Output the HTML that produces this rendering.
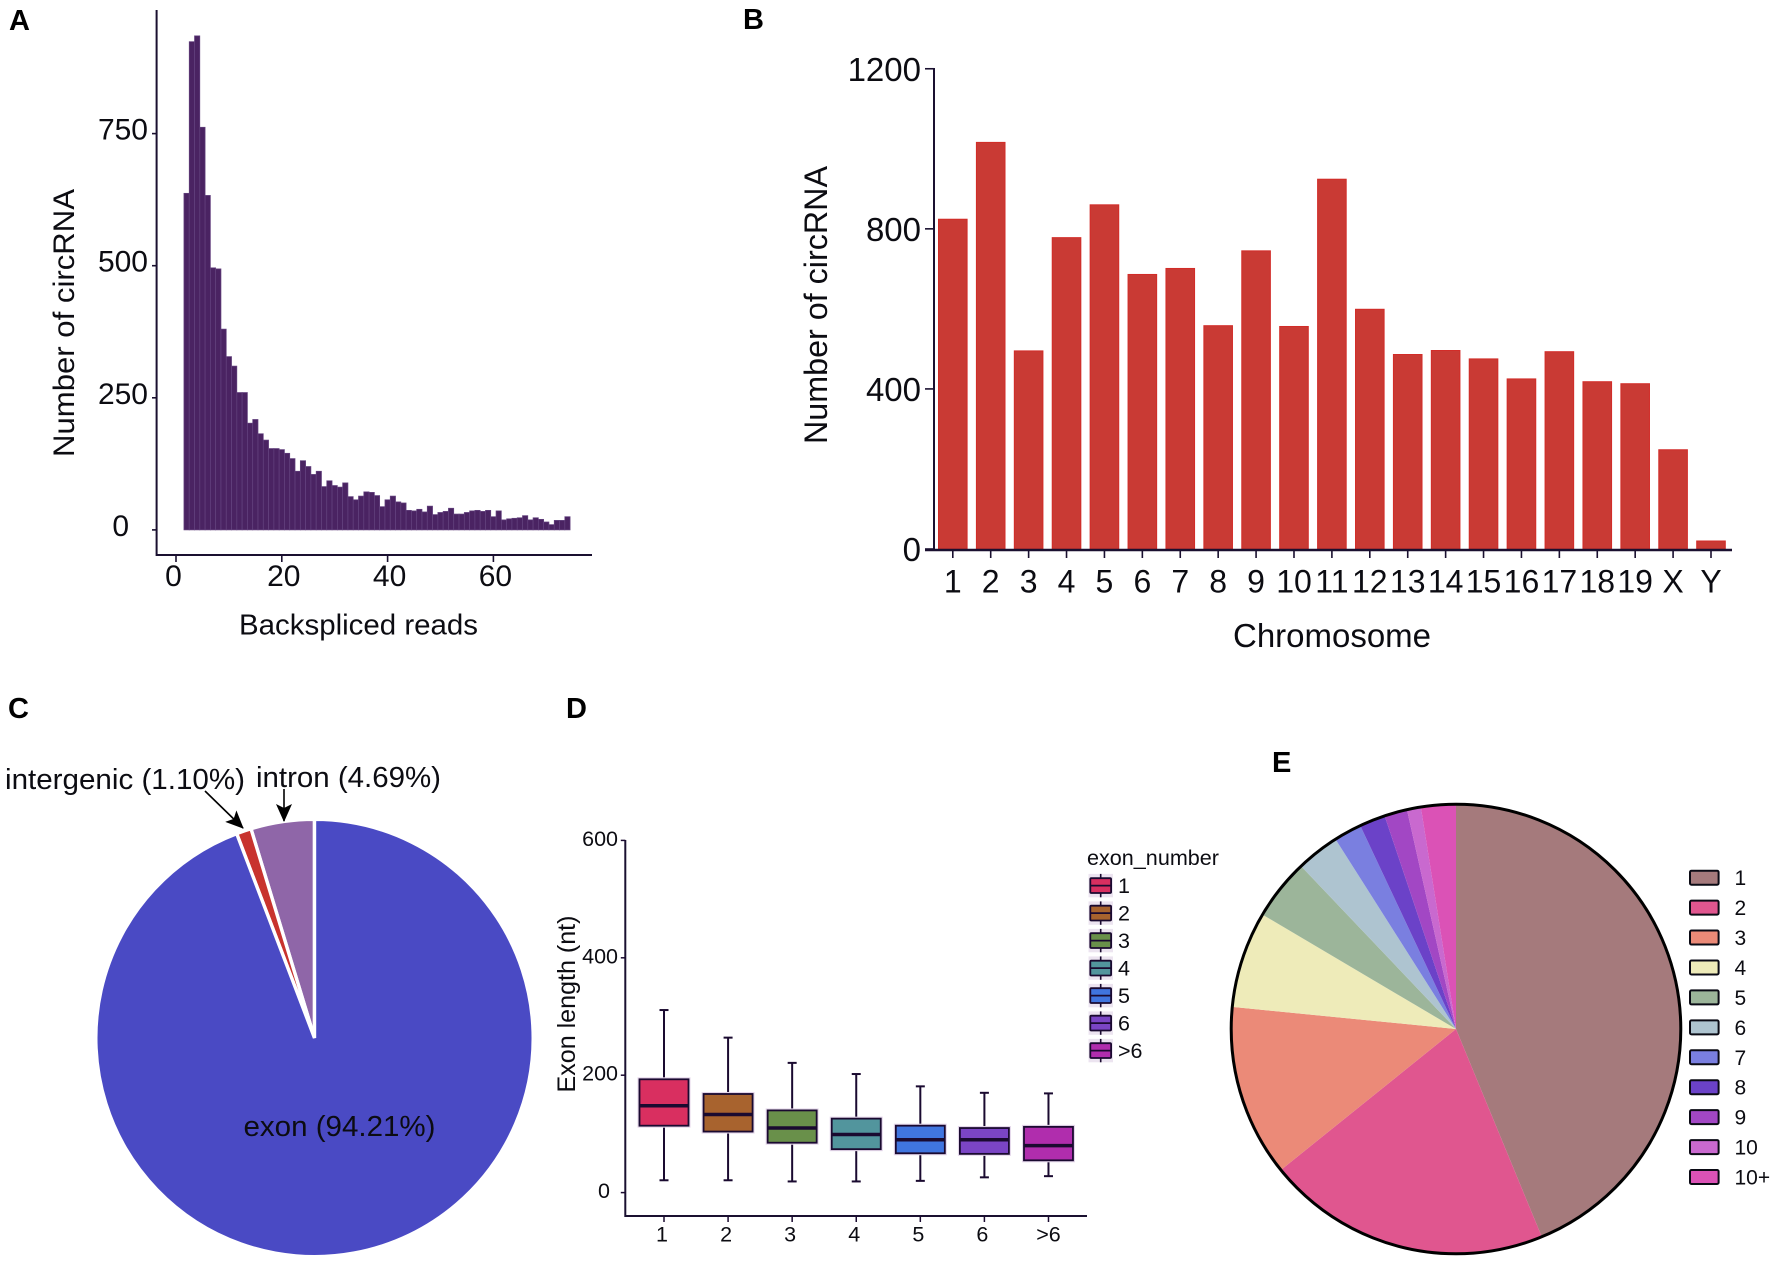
<!DOCTYPE html>
<html lang="en">
<head>
<meta charset="utf-8">
<title>circRNA characterization figure</title>
<style>
html,body{margin:0;padding:0;background:#fff;}
svg{display:block;}
text{font-family:"Liberation Sans",Arial,sans-serif;fill:#0c0c12;}
.panel-label{font-weight:bold;font-size:29px;fill:#000;}
</style>
</head>
<body>
<svg id="figure" xmlns="http://www.w3.org/2000/svg" width="1772" height="1262" viewBox="0 0 1772 1262">
  <defs>
    <marker id="arrow-head-large" markerWidth="18" markerHeight="16" refX="17" refY="8" orient="auto" markerUnits="userSpaceOnUse" viewBox="0 0 18 16">
      <path d="M0,0 L18,8 L0,16 L4,8 Z" fill="#000"/>
    </marker>
  </defs>

  <text class="panel-label" x="9" y="30">A</text>
  <text class="panel-label" x="743" y="29">B</text>
  <text class="panel-label" x="8" y="718">C</text>
  <text class="panel-label" x="566" y="718">D</text>
  <text class="panel-label" x="1272" y="772">E</text>

  <g id="panel-a">
    <line x1="156.6" y1="10" x2="156.6" y2="556" stroke="#1a1030" stroke-width="2"/>
    <line x1="156" y1="555" x2="592" y2="555" stroke="#1a1030" stroke-width="2"/>
    <text transform="translate(74 323) rotate(-90)" text-anchor="middle" font-size="30" textLength="268" lengthAdjust="spacingAndGlyphs">Number of circRNA</text>
    <text x="358.5" y="634.5" text-anchor="middle" font-size="29" textLength="239" lengthAdjust="spacingAndGlyphs">Backspliced reads</text>
  </g>

  <g id="panel-b">
    <line x1="934" y1="68" x2="934" y2="550" stroke="#1a1030" stroke-width="2"/>
    <text transform="translate(827 305) rotate(-90)" text-anchor="middle" font-size="32" textLength="278" lengthAdjust="spacingAndGlyphs">Number of circRNA</text>
    <text x="1332" y="647" text-anchor="middle" font-size="33" textLength="198" lengthAdjust="spacingAndGlyphs">Chromosome</text>
  </g>

  <g id="panel-c">
    <text x="5" y="789" font-size="29" textLength="240" lengthAdjust="spacingAndGlyphs">intergenic (1.10%)</text>
    <text x="256" y="787" font-size="29" textLength="185" lengthAdjust="spacingAndGlyphs">intron (4.69%)</text>
    <line x1="205" y1="791" x2="243" y2="828" stroke="#000" stroke-width="1.6" marker-end="url(#arrow-head-large)"/>
    <line x1="284" y1="789" x2="284" y2="821" stroke="#000" stroke-width="1.6" marker-end="url(#arrow-head-large)"/>
  </g>

  <g id="panel-d">
    <line x1="625.3" y1="840" x2="625.3" y2="1217" stroke="#1a1030" stroke-width="2"/>
    <line x1="624.5" y1="1216" x2="1087" y2="1216" stroke="#1a1030" stroke-width="2"/>
    <text transform="translate(575 1004) rotate(-90)" text-anchor="middle" font-size="25" textLength="177" lengthAdjust="spacingAndGlyphs">Exon length (nt)</text>
    <text x="1087" y="865" font-size="21.5" textLength="132" lengthAdjust="spacingAndGlyphs">exon_number</text>
  </g>

  <g id="panel-e"></g>
</svg>

<script>
// Panel A: histogram
const histStart = 2;
const histCounts = [637,924,935,762,633,496,494,380,328,310,260,260,202,209,182,170,154,154,152,145,135,111,131,120,105,111,82,93,84,81,89,63,57,64,72,71,65,44,57,64,53,51,37,36,39,34,45,29,33,35,41,30,30,33,36,37,35,37,25,36,19,21,22,23,27,19,23,20,15,10,18,18,25];
const histYTicks = [0,250,500,750];
const histXTicks = [0,20,40,60];

// Panel B: bars
const chromosomes = ['1','2','3','4','5','6','7','8','9','10','11','12','13','14','15','16','17','18','19','X','Y'];
const chromosomeCounts = [824,1016,495,778,860,686,701,558,745,556,924,599,486,496,475,425,493,418,413,248,20];
const chromosomeYTicks = [0,400,800,1200];

// Panel C: pie
const originNames = ['intron','intergenic','exon'];
const originShares = [4.69,1.10,94.21];
const originColors = ['#8f66a8','#c8332e','#4a4ac4'];

// Panel D: boxplot
const exonGroups = ['1','2','3','4','5','6','>6'];
const whiskerHigh = [311,264,221,202,181,170,169];
const quartileHigh = [193,168,140,126,114,110,112];
const medians = [148,133,110,99,90,90,80];
const quartileLow = [114,104,85,74,67,66,55];
const whiskerLow = [21,21,19,19,20,26,28];
const exonGroupColors = ['#d92f60','#a8632e','#69904a','#52959d','#4075df','#7b45c5','#b02dad'];
const boxYTicks = [0,200,400,600];

// Panel E: pie
const exonCountNames = ['1','2','3','4','5','6','7','8','9','10','10+'];
const exonCountShares = [43.76,20.44,12.35,6.93,4.4,3.1,2.0,1.86,1.64,1.0,2.5];
const exonCountColors = ['#a57a7c','#e0568f','#eb8a78','#eeebb9','#9cb59a','#aec4d0','#7a7fe0','#6b42c8','#a247c4','#c969cf','#db52b6'];

const NS = 'http://www.w3.org/2000/svg';
function mk(tag, attrs, parent, txt) {
  const node = document.createElementNS(NS, tag);
  for (const k in attrs) node.setAttribute(k, attrs[k]);
  if (txt !== undefined) node.textContent = txt;
  parent.appendChild(node);
  return node;
}
function slicePath(cx, cy, r, a0, a1) {
  const p0 = [cx + r * Math.sin(a0), cy - r * Math.cos(a0)];
  const p1 = [cx + r * Math.sin(a1), cy - r * Math.cos(a1)];
  const large = Math.abs(a1 - a0) > Math.PI ? 1 : 0;
  const sweep = a1 > a0 ? 1 : 0;
  return 'M' + cx + ',' + cy + ' L' + p0[0] + ',' + p0[1] + ' A' + r + ',' + r + ' 0 ' + large + ' ' + sweep + ' ' + p1[0] + ',' + p1[1] + ' Z';
}

// ---- Panel A ----
(function () {
  const g = document.getElementById('panel-a');
  const xA = v => 176 + v * 5.29;
  const yA = v => 529.9 - v * 0.5284;
  histCounts.forEach((c, i) => {
    const v = histStart + i;
    const el = mk('rect', {x: xA(v - 0.5), y: yA(c), width: xA(1) - xA(0), height: yA(0) - yA(c), fill: '#4a2362', stroke: '#64437f', 'stroke-width': 0.7}, g);
    
    
  });
  histYTicks.forEach(t => {
    const tick = mk('line', {x1: 152, x2: 156.6, y1: yA(t), y2: yA(t), stroke: '#1a1030', 'stroke-width': 1.6}, g);
    
    
    const label = mk('text', {x: t === 0 ? 129 : 148, y: yA(t) + 6, 'text-anchor': 'end', 'font-size': 30}, g, String(t));
    
    
  });
  histXTicks.forEach(t => {
    const tick = mk('line', {x1: xA(t), x2: xA(t), y1: 555, y2: 562, stroke: '#1a1030', 'stroke-width': 1.6}, g);
    
    
    const label = mk('text', {x: xA(t) + (t === 0 ? -2.5 : 2), y: 586, 'text-anchor': 'middle', 'font-size': 30}, g, String(t));
    
    
  });
})();

// ---- Panel B ----
(function () {
  const g = document.getElementById('panel-b');
  const xB = i => 952.8 + i * 37.91;
  const yB = v => 549 - v * 0.4002;
  chromosomes.forEach((name, i) => {
    const c = chromosomeCounts[i];
    const bar = mk('rect', {x: xB(i) - 14.3, y: yB(c), width: 28.6, height: yB(0) - yB(c), fill: '#c93a34', stroke: '#d22c28', 'stroke-width': 1}, g);
    
    
    const tick = mk('line', {x1: xB(i), x2: xB(i), y1: 550, y2: 558, stroke: '#1a1030', 'stroke-width': 1.6}, g);
    
    
    const label = mk('text', {x: xB(i), y: 592.5, 'text-anchor': 'middle', 'font-size': 32}, g, name);
    
    
  });
  const base = mk('line', {x1: 925, x2: 1732, y1: 550, y2: 550, stroke: '#1a1030', 'stroke-width': 2.4}, g);
  
  
  chromosomeYTicks.forEach(t => {
    const tick = mk('line', {x1: 925, x2: 934, y1: yB(t), y2: yB(t), stroke: '#1a1030', 'stroke-width': 1.6}, g);
    
    
    const label = mk('text', {x: 921, y: yB(t) + 12, 'text-anchor': 'end', 'font-size': 33}, g, String(t));
    
    
  });
})();

// ---- Panel C ----
(function () {
  const g = document.getElementById('panel-c');
  const total = originShares.reduce((a, b) => a + b, 0);
  let angle = 0;
  const first = g.firstChild;
  originShares.forEach((s, i) => {
    const next = angle - s / total * 2 * Math.PI;
    const slice = mk('path', {d: slicePath(314.5, 1038, 218.7, angle, next), fill: originColors[i], stroke: '#fff', 'stroke-width': 3.4, 'stroke-linejoin': 'miter'}, g);
    
    
    g.insertBefore(slice, first);
    angle = next;
  });
  const label = mk('text', {x: 243.5, y: 1136, 'font-size': 29, textLength: 192, lengthAdjust: 'spacingAndGlyphs'}, g, 'exon (94.21%)');
  
  
})();

// ---- Panel D ----
(function () {
  const g = document.getElementById('panel-d');
  const xD = i => 664 + i * 64.08;
  const yD = v => 1192.6 - v * 0.5870;
  const ink = '#1a0a30';
  boxYTicks.forEach(t => {
    const tick = mk('line', {x1: 620.8, x2: 625.3, y1: yD(t), y2: yD(t), stroke: ink, 'stroke-width': 1.5}, g);
    
    
    const label = mk('text', {x: t === 0 ? 610 : 618, y: yD(t) + 5.5, 'text-anchor': 'end', 'font-size': 21.5}, g, String(t));
    
    
  });
  exonGroups.forEach((name, i) => {
    const x = xD(i);
    const whisker = mk('line', {x1: x, x2: x, y1: yD(whiskerHigh[i]), y2: yD(whiskerLow[i]), stroke: ink, 'stroke-width': 2}, g);
    
    
    [whiskerHigh[i], whiskerLow[i]].forEach(v => {
      const cap = mk('line', {x1: x - 4.5, x2: x + 4.5, y1: yD(v), y2: yD(v), stroke: ink, 'stroke-width': 2}, g);
      
      
    });
    const halo = mk('rect', {x: x - 24.5, y: yD(quartileHigh[i]), width: 49, height: yD(quartileLow[i]) - yD(quartileHigh[i]), fill: 'none', stroke: '#e4d6ea', 'stroke-width': 4}, g);
    
    
    const box = mk('rect', {x: x - 24.5, y: yD(quartileHigh[i]), width: 49, height: yD(quartileLow[i]) - yD(quartileHigh[i]), fill: exonGroupColors[i], stroke: ink, 'stroke-width': 1.8}, g);
    
    
    const median = mk('line', {x1: x - 24.5, x2: x + 24.5, y1: yD(medians[i]), y2: yD(medians[i]), stroke: ink, 'stroke-width': 3.5}, g);
    
    
    const tick = mk('line', {x1: x, x2: x, y1: 1216, y2: 1222, stroke: ink, 'stroke-width': 1.5}, g);
    
    
    const label = mk('text', {x: x + (name === '>6' ? 0 : -2), y: 1241.5, 'text-anchor': 'middle', 'font-size': 21.5}, g, name);
    
    

    // legend entry
    const ly = 885.6 + i * 27.5;
    const bg = mk('rect', {x: 1088.5, y: ly - 11.7, width: 24.5, height: 23.4, fill: '#ece4f0'}, g);
    
    
    const stem = mk('line', {x1: 1100.7, x2: 1100.7, y1: ly - 11.7, y2: ly + 11.7, stroke: ink, 'stroke-width': 1.6}, g);
    
    
    const lb = mk('rect', {x: 1090.3, y: ly - 7.4, width: 20.8, height: 14.8, fill: exonGroupColors[i], stroke: ink, 'stroke-width': 1.8, rx: 1}, g);
    
    
    const lm = mk('line', {x1: 1090.3, x2: 1111.1, y1: ly, y2: ly, stroke: ink, 'stroke-width': 1.8}, g);
    
    
    const lt = mk('text', {x: 1118, y: ly + 7.5, 'font-size': 21.5}, g, name);
    
    
  });
})();

// ---- Panel E ----
(function () {
  const g = document.getElementById('panel-e');
  const total = exonCountShares.reduce((a, b) => a + b, 0);
  let angle = 0;
  exonCountShares.forEach((s, i) => {
    const next = angle + s / total * 2 * Math.PI;
    const slice = mk('path', {d: slicePath(1456, 1029, 224.8, angle, next), fill: exonCountColors[i]}, g);
    
    
    angle = next;
    const ly = 877.7 + i * 29.93;
    const key = mk('rect', {x: 1690, y: ly - 7, width: 28.6, height: 14, rx: 1.5, fill: exonCountColors[i], stroke: '#0a0a14', 'stroke-width': 2}, g);
    
    
    const label = mk('text', {x: 1734.5, y: ly + 7.5, 'font-size': 21}, g, exonCountNames[i]);
    
    
  });
  const rim = mk('circle', {cx: 1456, cy: 1029, r: 224.8, fill: 'none', stroke: '#000', 'stroke-width': 3}, g);
  
  
})();
</script>
</body>
</html>
